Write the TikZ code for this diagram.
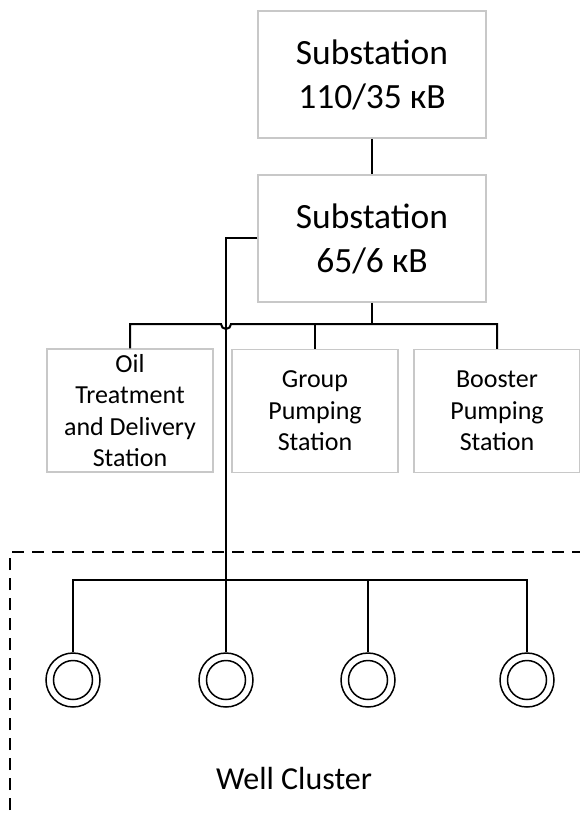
\documentclass[tikz,border=0pt]{standalone}
\usepackage{fontspec}
\setmainfont{Carlito}
\begin{document}
\begin{tikzpicture}[x=1pt,y=-1pt,
  bigbox/.style={draw=boxgray,line width=1.5pt,minimum width=228pt,minimum height=127pt,align=center,inner sep=0pt,font=\fontsize{35.5}{44}\selectfont},
  smallbox/.style={draw=boxgray,line width=1.5pt,minimum width=166pt,minimum height=123pt,align=center,inner sep=0pt,font=\fontsize{26}{31.5}\selectfont},
  wire/.style={line width=2pt,black},
  well/.style={circle,draw,line width=1.5pt,minimum size=54pt,inner sep=0pt},
  border/.style={line width=1.2pt,dash pattern=on 12pt off 8pt}]
\definecolor{boxgray}{RGB}{200,200,200}
\useasboundingbox (0,0) rectangle (579,816);
% boxes
\node[bigbox] (s1) at (372,74.5) {Substation\\110/35 кВ};
\node[bigbox] (s2) at (372,238.5) {Substation\\65/6 кВ};
\node[smallbox] (oil) at (130,410.5) {Oil\\Treatment\\and Delivery\\Station};
\node[smallbox] (gps) at (315,411) {\rule{0pt}{6pt}Group\\Pumping\\Station};
\node[smallbox] (bps) at (497,411) {\rule{0pt}{6pt}Booster\\Pumping\\Station};
% wells
\node[well] (w1) at (73,680) {};
\node[well] (w2) at (226,680) {};
\node[well] (w3) at (368,680) {};
\node[well] (w4) at (527,680) {};
\foreach \w in {w1,w2,w3,w4} \draw[line width=1.5pt] (\w.center) circle (19.5);
% connectors
\draw[wire] (s1.south) -- (s2.north);
\coordinate (hopL) at (221,324);
\coordinate (hopR) at (231,324);
\draw[wire] (oil.north) |- (hopL) arc[start angle=180,end angle=0,radius=5] -- (hopR) -| (bps.north);
\draw[wire] (s2.south) -- (372,324);
\draw[wire] (315,324) -- (gps.north);
\draw[wire] (s2.west |- 0,238) -| (w2.north);
\draw[wire] (w1.north) |- (368,580) -| (w4.north);
\draw[wire] (368,580) -- (w3.north);
% well cluster border
\draw[border] (10,830) -- (10,552) -- (590,552);
\node[font=\fontsize{32}{38}\selectfont] (wc) at (294,778) {Well Cluster};
\end{tikzpicture}
\end{document}
